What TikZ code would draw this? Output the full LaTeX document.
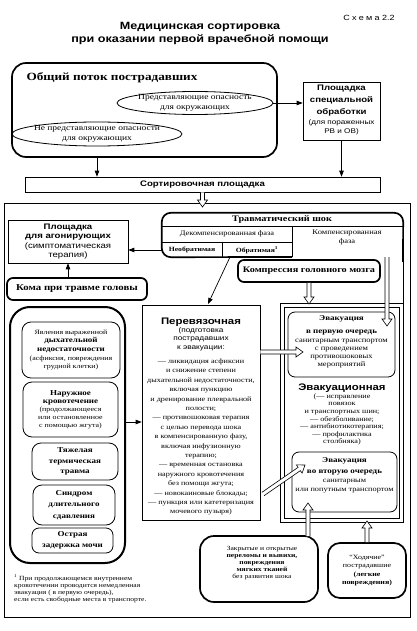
\documentclass[tikz,border=0pt]{standalone}
\usepackage{fontspec}
\setmainfont{Liberation Serif}[FakeStretch=1.2]
\setsansfont{Liberation Sans}[FakeStretch=1.2]
\usetikzlibrary{arrows.meta,shapes.geometric,calc,fit}
\newcommand\fs[2]{\fontsize{#1}{#2}\selectfont}
\tikzset{
  thickbox/.style={draw, line width=1.7pt, rounded corners=#1, inner sep=0pt},
  thickbox/.default=8pt,
  thinbox/.style={draw, line width=0.6pt, inner sep=0pt},
  midbox/.style={draw, line width=0.8pt, rounded corners=7pt, inner sep=0pt},
  txt/.style={align=center, inner sep=0pt},
  arr/.style={line width=0.7pt, -{Triangle[length=6pt,width=4.5pt]}},
  harrow/.style={fill=white, draw, line width=0.6pt, line join=miter},
}
\newcommand\harr[2]{%
  \coordinate (hA) at (#1);
  \coordinate (hB) at (#2);
  \coordinate (hH) at ($(hB)!7pt!(hA)$);
  \path[harrow] ($(hA)!2pt!90:(hB)$) -- ($(hH)!2pt!-90:(hA)$) -- ($(hH)!5pt!-90:(hA)$) -- (hB) -- ($(hH)!5pt!90:(hA)$) -- ($(hH)!2pt!90:(hA)$) -- ($(hA)!2pt!-90:(hB)$);
}
\begin{document}
\begin{tikzpicture}[x=1pt,y=-1pt]
\useasboundingbox (0,0) rectangle (417,631);

% title
\node[txt, font=\sffamily\bfseries\fs{10.5}{13}] (title) at (200,33.5) {Медицинская сортировка\\при оказании первой врачебной помощи};
\node[txt, font=\sffamily\fs{7.5}{9}] (schema) at (369,18) {{\addfontfeature{LetterSpace=30}Схема} 2.2};

% general flow
\node[thickbox=14pt, fit={(12,63) (277,157)}] (flow) {};
\node[txt, font=\bfseries\fs{11}{13}] (flowt) at (112,78) {Общий поток пострадавших};
\node[ellipse, draw, line width=0.8pt, minimum width=156pt, minimum height=23pt, inner sep=0pt] (ell1) at (195,103) {};
\node[txt, font=\fs{7.9}{9.5}] (ell1t) at (ell1) {Представляющие опасность\\для окружающих};
\node[ellipse, draw, line width=0.8pt, minimum width=170pt, minimum height=24pt, inner sep=0pt] (ell2) at (97,134) {};
\node[txt, font=\fs{7.9}{9.5}] (ell2t) at (ell2) {Не представляющие опасности\\для окружающих};

% special treatment
\node[thinbox, fit={(303,82) (380,140)}] (spec) {};
\node[txt, font=\sffamily\fs{6.8}{9.5}] (spect) at (341.5,110) {{\bfseries\fs{8}{12}Площадка}\\[2.5pt]{\bfseries\fs{8}{12}специальной}\\[2.5pt]{\bfseries\fs{8}{12}обработки}\\(для пораженных\\РВ и ОВ)};

% sorting
\node[thinbox, fit={(25,177) (380,192)}] (sort) {};
\node[txt, font=\sffamily\bfseries\fs{8}{10}] (sortt) at (sort.center) {Сортировочная площадка};

\draw[arr] (ell1.east) -- (ell1.east -| spec.west);
\draw[arr] (flow.south -| ell2.center) -- (sort.north -| ell2.center);
\draw[arr] (spec.south) -- (sort.north -| spec.south);

% main frame
\node[thinbox, fit={(4,203) (410,617)}] (frame) {};
\coordinate (sortTip) at (sort.south |- 0,207);
\harr{sort.south}{sortTip}

% agonizing
\node[thinbox, fit={(8,220) (128,263)}] (agon) {};
\node[txt, font=\sffamily\fs{8}{9.6}] (agont) at (agon.center) {{\bfseries Площадка}\\{\bfseries для агонирующих}\\(симптоматическая\\терапия)};

% traumatic shock
\node[fit={(162,213) (403,257)}, inner sep=0pt] (shock) {};
\draw[line width=1.7pt, rounded corners=9pt] (292,257) -- (shock.south west) -- (shock.north west) -- (shock.north east) -- (403,262);
\draw[line width=0.6pt] (403,258) -- (403,303);
\draw[line width=0.6pt] (162,226) -- (403,226) (162,242) -- (292,242) (292,226) -- (292,257) (222,242) -- (222,257);
\node[txt, font=\bfseries\fs{8.5}{10}] (shockt) at (282,219.5) {Травматический шок};
\node[txt, font=\fs{7}{8}] (decomp) at (227,234) {Декомпенсированная фаза};
\node[txt, font=\fs{7.1}{9}] (comp) at (347,237) {Компенсированная\\фаза};
\node[txt, font=\bfseries\fs{6.4}{8}] (neobr) at (192,250) {Необратимая};
\node[txt, font=\bfseries\fs{6.4}{8}] (obr) at (257,250) {Обратимая\textsuperscript{1}};
\draw[arr] (shock.west |- neobr) -- (neobr -| agon.east);

% coma
\node[thickbox=6pt, fit={(7,278) (147,300)}] (coma) {};
\node[txt, font=\bfseries\fs{9}{10}] (comat) at (coma.center) {Кома при травме головы};
\draw[arr] (agon.south |- coma.north) -- (agon.south);

% compression
\node[thickbox=6pt, fit={(238,260) (380,282)}] (compr) {};
\node[txt, font=\bfseries\fs{8.5}{10}] (comprt) at (compr.center) {Компрессия головного мозга};

% left big box
\node[draw, line width=2pt, rounded corners=20pt, inner sep=0pt, fit={(10,307) (125,563)}] (left) {};
\node[midbox, rounded corners=9pt, fit={(22,322) (120,378)}] (b1) {};
\node[txt, font=\fs{6.6}{8.6}] (b1t) at (71,350) {Явления выраженной\\{\bfseries\fs{7.5}{9}дыхательной}\\{\bfseries\fs{7.5}{9}недостаточности}\\(асфиксия, повреждения\\грудной клетки)};
\node[midbox, rounded corners=9pt, fit={(23,382) (118,437)}] (b2) {};
\node[txt, font=\fs{6.6}{8}] (b2t) at (70.5,410) {{\bfseries\fs{7.5}{10.5}Наружное}\\{\bfseries\fs{7.5}{10.5}кровотечение}\\(продолжающееся\\или остановленное\\с помощью жгута)};
\node[midbox, rounded corners=9pt, fit={(32,443) (118,480)}] (b3) {};
\node[txt, font=\bfseries\fs{7.5}{10.5}] (b3t) at (b3.center) {Тяжелая\\термическая\\травма};
\node[midbox, rounded corners=9pt, fit={(33,485) (115,525)}] (b4) {};
\node[txt, font=\bfseries\fs{7.5}{11.5}] (b4t) at (b4.center) {Синдром\\длительного\\сдавления};
\node[midbox, rounded corners=7pt, fit={(32,528) (113,553)}] (b5) {};
\node[txt, font=\bfseries\fs{7.5}{11}] (b5t) at (b5.center) {Острая\\задержка мочи};

% dressing room
\node[thinbox, fit={(142,305) (260,520)}] (perev) {};
\node[txt, font=\sffamily\fs{6.9}{8.3}] (perevh) at (201,334) {{\bfseries\fs{9.5}{11}Перевязочная}\\(подготовка\\пострадавших\\к эвакуации:};
\node[txt, font=\fs{6.8}{9.4}] (perevb) at (201,437) {— ликвидация асфиксии\\и снижение степени\\дыхательной недостаточности,\\включая пункцию\\и дренирование плевральной\\полости;\\— противошоковая терапия\\с целью перевода шока\\в компенсированную фазу,\\включая инфузионную\\терапию;\\— временная остановка\\наружного кровотечения\\без помощи жгута;\\— новокаиновые блокады;\\— пункция или катетеризация\\мочевого пузыря)};
\coordinate (obrS) at (230,257);
\coordinate (perevIn) at (208,304);
\draw[arr] (obrS) -- (perevIn);
\draw[arr] ($(left.east)+(0,-13)$) -- ($(left.east -| perev.west)+(0,-13)$);

% evacuation frame
\node[thinbox, fit={(280,303) (403,522)}] (evfr) {};
\node[thinbox, fit={(284,307) (399,518)}] (evfri) {};
\node[midbox, fit={(288,312) (395,377)}] (ev1) {};
\node[txt, font=\bfseries\fs{7.5}{12.5}] (ev1h) at (341.5,325.5) {Эвакуация\\в первую очередь};
\node[txt, font=\fs{7.1}{8}] (ev1t) at (341.5,354) {санитарным транспортом\\с проведением\\противошоковых\\мероприятий};
\node[txt, font=\sffamily\bfseries\fs{9.5}{11}] (evh) at (342,388) {Эвакуационная};
\node[txt, font=\fs{6.8}{7.6}] (evt) at (342,419.5) {(— исправление\\повязок\\и транспортных шин;\\— обезболивание;\\— антибиотикотерапия;\\— профилактика\\столбняка)};
\node[midbox, fit={(292,452) (397,512)}] (ev2) {};
\node[txt, font=\bfseries\fs{7.5}{11}] (ev2h) at (344.5,466.5) {Эвакуация\\во вторую очередь};
\node[txt, font=\fs{6.9}{9}] (ev2t) at (344.5,486.5) {санитарным\\или попутным транспортом};

% bottom boxes
\node[thickbox=14pt, fit={(200,536) (318,602)}] (closed) {};
\node[txt, font=\fs{6.3}{7}] (closedt) at (262,563.5) {Закрытые и открытые\\\textbf{переломы и вывихи,}\\\textbf{повреждения}\\\textbf{мягких тканей}\\без развития шока};
\node[thickbox=12pt, fit={(328,543) (406,598)}] (walk) {};
\node[txt, font=\fs{6.6}{8.3}] (walkt) at (367,570.5) {“Ходячие”\\пострадавшие\\\textbf{(легкие}\\\textbf{повреждения)}};

% hollow arrows
\coordinate (comprTip) at (compr.south |- 0,304);
\harr{compr.south}{comprTip}
\coordinate (compS) at (387,257);
\coordinate (compTip) at (387,326);
\harr{compS}{compTip}
\coordinate (pv1S) at (perev.east |- 0,352);
\coordinate (pv1T) at (303,352);
\harr{pv1S}{pv1T}
\coordinate (pv2S) at (263,494);
\coordinate (pv2T) at (305,465);
\harr{pv2S}{pv2T}
\coordinate (clS) at (308,536);
\coordinate (clT) at (308,503);
\harr{clS}{clT}
\coordinate (wkT) at (walk.north |- 0,521);
\harr{walk.north}{wkT}

% footnote
\node[align=left, anchor=west, inner sep=0pt, font=\fs{6.3}{7}] (foot) at (14,588.5) {\textsuperscript{1} При продолжающемся внутреннем\\кровотечении проводится немедленная\\эвакуация ( в первую очередь),\\если есть свободные места в транспорте.};
\end{tikzpicture}
\end{document}
